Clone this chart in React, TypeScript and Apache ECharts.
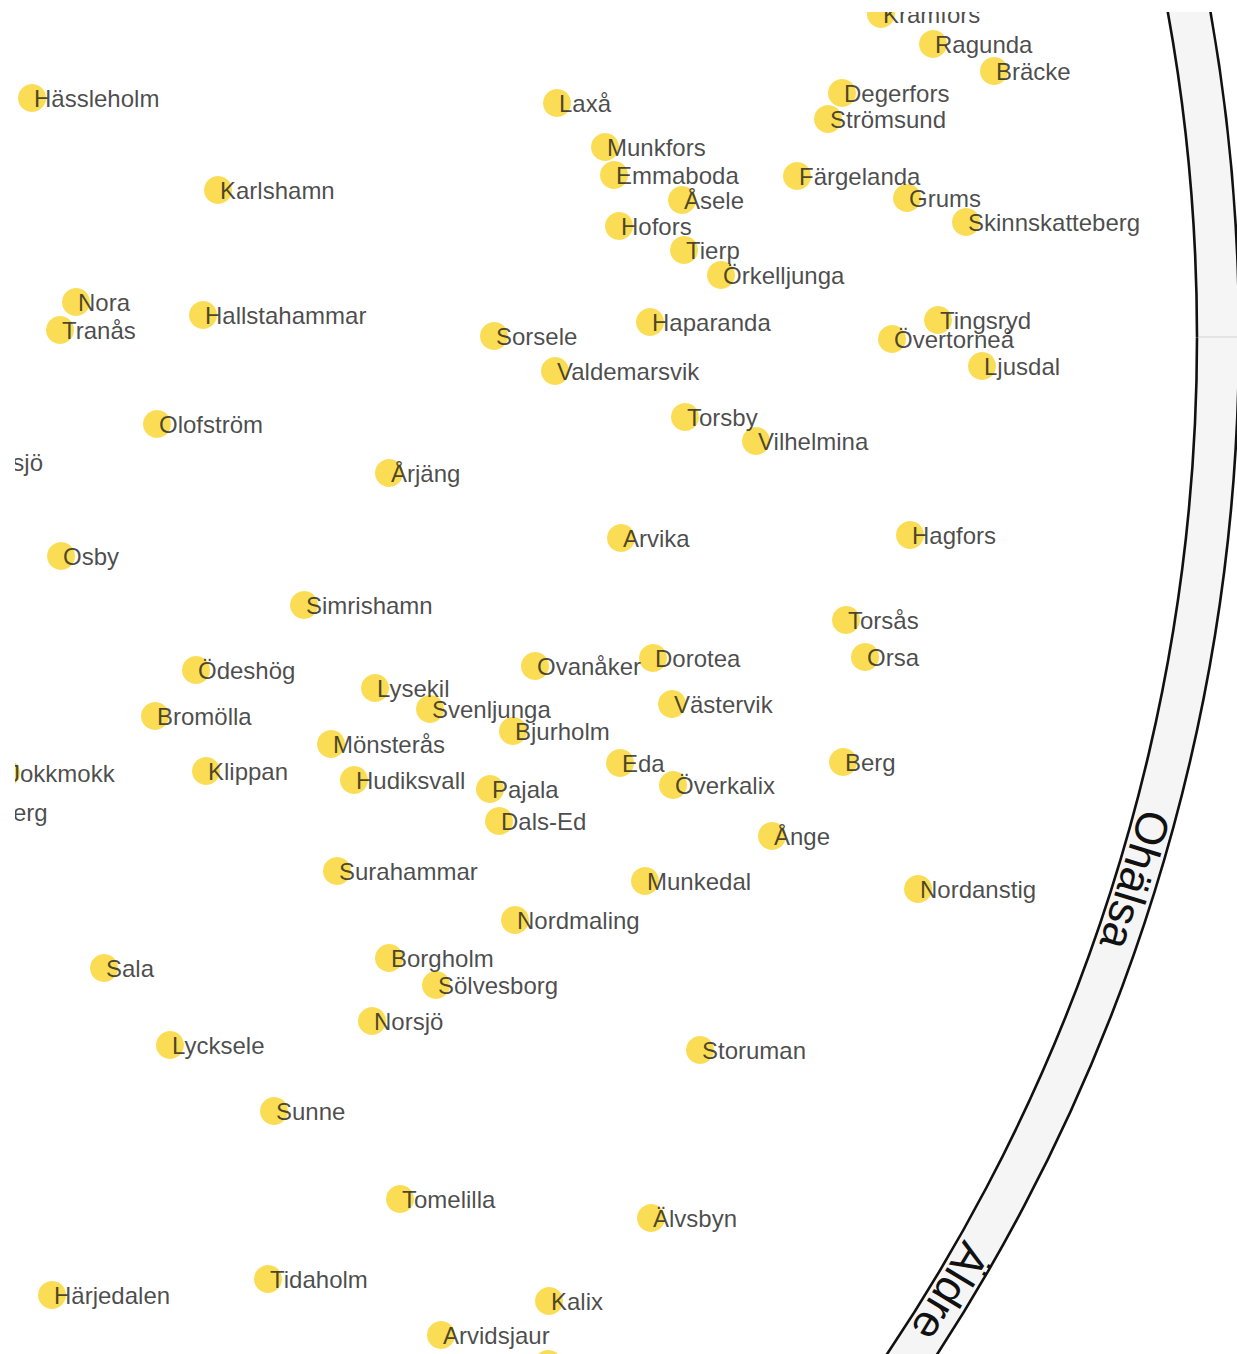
import React, { useEffect, useRef } from "react";
import * as echarts from "echarts";

// Municipality names and their positions on the two projection dimensions
const names: string[] = [
  "Kramfors", "Ragunda", "Bräcke", "Degerfors", "Strömsund", "Hässleholm", "Laxå",
  "Munkfors", "Emmaboda", "Åsele", "Färgelanda", "Grums", "Skinnskatteberg", "Karlshamn",
  "Hofors", "Tierp", "Örkelljunga", "Nora", "Tranås", "Hallstahammar", "Sorsele",
  "Haparanda", "Tingsryd", "Övertorneå", "Ljusdal", "Valdemarsvik", "Olofström", "Torsby",
  "Vilhelmina", "Årjäng", "Gnosjö", "Arvika", "Hagfors", "Osby", "Simrishamn", "Torsås",
  "Ödeshög", "Ovanåker", "Dorotea", "Orsa", "Lysekil", "Svenljunga", "Västervik",
  "Bromölla", "Bjurholm", "Mönsterås", "Berg", "Eda", "Jokkmokk", "Klippan", "Hudiksvall",
  "Pajala", "Överkalix", "Norberg", "Dals-Ed", "Ånge", "Surahammar", "Munkedal",
  "Nordanstig", "Nordmaling", "Sala", "Borgholm", "Sölvesborg", "Norsjö", "Lycksele",
  "Storuman", "Sunne", "Tomelilla", "Älvsbyn", "Tidaholm", "Härjedalen", "Kalix",
  "Arvidsjaur", "Boden",
];

const dim1: number[] = [
  86.6, 91.8, 97.9, 82.7, 81.3, 1.7, 54.2,
  59.0, 59.9, 66.7, 78.2, 89.2, 95.1, 20.3,
  60.4, 66.9, 70.6, 6.1, 4.5, 18.8, 47.9,
  63.5, 92.3, 87.7, 96.7, 54.0, 14.2, 67.0,
  74.1, 37.4, -5.0, 60.6, 89.5, 4.6, 28.9, 83.1,
  18.1, 52.0, 63.8, 85.0, 36.0, 41.5, 65.7,
  14.0, 49.8, 31.6, 82.8, 60.5, -0.9, 19.1, 33.9,
  47.5, 65.8, -5.6, 48.4, 75.7, 32.2, 63.0,
  90.3, 50.0, 8.9, 37.4, 42.1, 35.7, 15.5,
  68.5, 25.9, 38.5, 63.6, 25.3, 3.7, 53.4,
  42.6, 53.3,
];

const dim2: number[] = [
  0.2, 3.2, 5.9, 8.1, 10.7, 8.6, 9.1,
  13.5, 16.3, 18.8, 16.4, 18.6, 21.0, 17.8,
  21.4, 23.8, 26.3, 29.0, 31.8, 30.3, 32.4,
  31.0, 30.8, 32.7, 35.4, 35.9, 41.2, 40.5,
  42.9, 46.1, 45.0, 52.6, 52.3, 54.4, 59.3, 60.8,
  65.8, 65.4, 64.6, 64.5, 67.6, 69.7, 69.2,
  70.4, 71.9, 73.2, 75.0, 75.1, 76.1, 75.9, 76.8,
  77.7, 77.3, 80.0, 80.9, 82.4, 85.9, 86.9,
  87.7, 90.8, 95.6, 94.6, 97.3, 100.9, 103.3,
  103.8, 109.9, 118.7, 120.6, 126.7, 128.3, 128.9,
  132.3, 135.2,
];

const ringLabels: string[] = ["Ohälsa", "Äldre"];

const W = 1222;
const H = 1342;

export default function App() {
  const ref = useRef<HTMLDivElement>(null);

  useEffect(() => {
    if (!ref.current) return;
    const chart = echarts.init(ref.current, undefined, { renderer: "svg" });

    const data = names.map((n, i) => ({ name: n, value: [dim1[i], dim2[i]] }));

    // ring geometry (chart pixel coords)
    const cx = -641;
    const cy = 325;
    const r0 = 1823;
    const r1 = 1865;
    const rm = 1843;
    const a1 = Math.asin((868 - cy) / rm);
    const a2 = Math.asin((1280 - cy) / rm);

    const ringText = (text: string, a: number) => ({
      type: "text",
      x: cx + rm * Math.cos(a),
      y: cy + rm * Math.sin(a),
      rotation: -(Math.PI / 2 + a),
      style: {
        text,
        fontSize: 45,
        fontFamily: "Liberation Sans, Arial, sans-serif",
        fill: "#111",
        align: "center",
        verticalAlign: "middle",
        textAlign: "center",
        textVerticalAlign: "middle",
      },
    });

    chart.setOption({
      animation: false,
      backgroundColor: "#ffffff",
      grid: { left: 0, right: 0, top: 0, bottom: 0 },
      xAxis: { type: "value", min: 0, max: 122.2, show: false },
      yAxis: { type: "value", min: 0, max: 134.2, inverse: true, show: false },
      graphic: [
        {
          type: "ring",
          z: -10,
          shape: { cx, cy, r: r1, r0 },
          style: { fill: "#f5f5f5", stroke: "#111", lineWidth: 2.6 },
        },
        {
          type: "line",
          z: -9,
          shape: { x1: cx + r0 + 2, y1: cy, x2: cx + r1 - 2, y2: cy },
          style: { stroke: "#e4e4e4", lineWidth: 2 },
        },
        ringText(ringLabels[0], a1),
        ringText(ringLabels[1], a2),
      ],
      series: [
        {
          type: "scatter",
          clip: false,
          symbol: "circle",
          symbolSize: 28,
          itemStyle: { color: "#F9D32A" },
          data,
          label: {
            show: true,
            position: "right",
            distance: -12,
            formatter: "{b}",
            fontSize: 24,
            fontFamily: "Liberation Sans, Arial, sans-serif",
            color: "#1c1c1c",
          },
          emphasis: { disabled: true },
        },
      ],
    });

    return () => chart.dispose();
  }, []);

  return (
    <div
      ref={ref}
      style={{ position: "absolute", left: 15, top: 12, width: W, height: H }}
    />
  );
}
